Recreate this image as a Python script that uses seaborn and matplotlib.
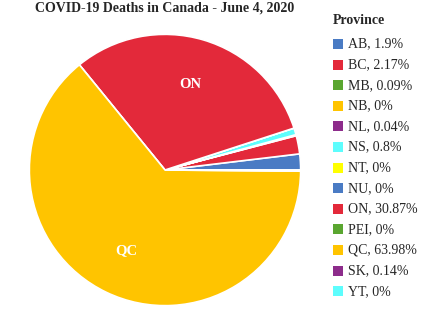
import matplotlib
matplotlib.use("Agg")
import matplotlib.pyplot as plt
from matplotlib.patches import Rectangle
import seaborn as sns

provinces = ["AB", "BC", "MB", "NB", "NL", "NS", "NT", "NU", "ON", "PEI", "QC", "SK", "YT"]
shares = [1.9, 2.17, 0.09, 0, 0.04, 0.8, 0, 0, 30.87, 0, 63.98, 0.14, 0]
colors = ["#4a7bc4", "#e3293a", "#5aa630", "#ffc400", "#8d2c8b", "#5dfdfd", "#ffff00",
          "#4a7bc4", "#e3293a", "#5aa630", "#ffc400", "#8d2c8b", "#5dfdfd"]
title = "COVID-19 Deaths in Canada - June 4, 2020"
legend_title = "Province"

sns.set_style("white")
plt.rcParams["font.family"] = ["Liberation Serif", "DejaVu Serif"]

W, H = 421, 328
fig = plt.figure(figsize=(W / 100, H / 100), dpi=100)
cx, cy, r = 165, 170, 137
ax = fig.add_axes([(cx - r) / W, (H - cy - r) / H, 2 * r / W, 2 * r / H])
wedges, texts = ax.pie(shares, colors=colors, startangle=0, counterclock=True,
                       wedgeprops=dict(edgecolor="white", linewidth=1.2),
                       labels=[p if s > 5 else "" for p, s in zip(provinces, shares)],
                       labeldistance=0.66)
for t in texts:
    t.set_color("white")
    t.set_fontsize(10.5)
    t.set_fontweight("bold")
    t.set_ha("center")
    t.set_va("center")
ax.set_xlim(-1.01, 1.01)
ax.set_ylim(-1.01, 1.01)
ax.set_aspect("equal")
ax.axis("off")

fig.text(165 / W, 1 - 8 / H, title, ha="center", va="center", fontsize=10, fontweight="bold")
fig.text(333 / W, 1 - 21 / H, legend_title, ha="left", va="center", fontsize=10, fontweight="bold")
y0, dy = 44, 20.6
for i, (p, s, c) in enumerate(zip(provinces, shares, colors)):
    yc = y0 + i * dy
    fig.add_artist(Rectangle((333 / W, 1 - (yc + 5) / H), 10 / W, 10 / H,
                             transform=fig.transFigure, facecolor=c, edgecolor="none"))
    label = f"{p}, {s:g}%"
    fig.text(348 / W, 1 - yc / H, label, ha="left", va="center", fontsize=10)

fig.savefig("out.png", dpi=100, facecolor="white")
